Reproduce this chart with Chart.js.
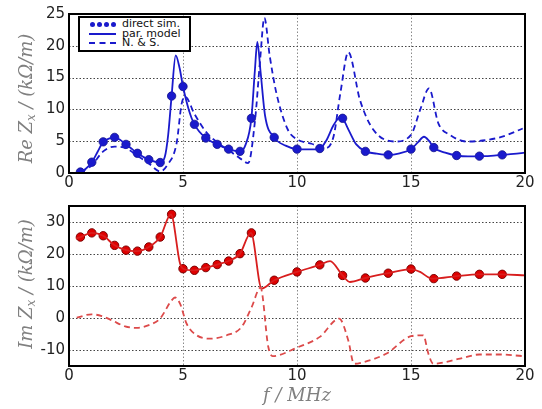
<!DOCTYPE html>
<html>
<head>
<meta charset="utf-8">
<script src="https://cdn.jsdelivr.net/npm/chart.js@4/dist/chart.umd.min.js"></script>
<style>
  html,body{margin:0;padding:0;background:#fff;}
  #wrap{position:relative;width:542px;height:409px;overflow:hidden;}
  .cv{position:absolute;left:0;}
  #legend{position:absolute;left:78px;top:16px;width:109px;height:32px;border:2px solid #000;background:#fff;
    font-family:"DejaVu Sans",sans-serif;font-size:11px;color:#111;}
  .row{position:absolute;left:0;height:10px;line-height:10px;}
  .row span.t{position:absolute;left:42px;top:0;white-space:nowrap;}
  .sym{position:absolute;left:9px;top:5px;width:27px;height:0;}
  .dot{position:absolute;top:-2.5px;width:5px;height:5px;border-radius:50%;background:#1a1acc;}
</style>
</head>
<body>
<div id="wrap">
  <canvas id="c1" class="cv" width="542" height="192" style="top:0"></canvas>
  <canvas id="c2" class="cv" width="542" height="217" style="top:192px"></canvas>
  <div id="legend">
    <div class="row" style="top:1px"><div class="sym"><div class="dot" style="left:1px"></div><div class="dot" style="left:8px"></div><div class="dot" style="left:15px"></div><div class="dot" style="left:22px"></div></div><span class="t">direct sim.</span></div>
    <div class="row" style="top:10.5px"><div class="sym" style="border-top:2px solid #1a1acc;top:4px"></div><span class="t">par. model</span></div>
    <div class="row" style="top:20px"><div class="sym" style="border-top:2px dashed #1a1acc;top:4px"></div><span class="t">N. &amp; S.</span></div>
  </div>
</div>
<script>
// ---------- data ----------
const simFreq = [0.5,1,1.5,2,2.5,3,3.5,4,4.5,5,5.5,6,6.5,7,7.5,8,9,10,11,12,13,14,15,16,17,18,19];
const reSim   = [0.15,1.7,4.9,5.6,4.5,3.1,2.1,1.65,12.1,13.6,7.65,5.5,4.5,3.75,3.4,8.6,5.6,3.75,3.85,8.6,3.4,2.85,3.75,4.0,2.75,2.65,2.85];
const imSim   = [25.3,26.6,25.7,22.7,21.2,20.9,22.2,25.3,32.4,15.4,14.9,15.75,16.7,17.8,20.1,26.6,11.8,14.4,16.6,13.3,12.5,14.0,15.3,12.3,13.1,13.65,13.65];

const reModelF = [0.3,0.5,0.75,1.0,1.25,1.5,1.75,2.0,2.25,2.5,2.75,3.0,3.5,4.0,4.2,4.35,4.5,4.68,4.85,5.0,5.25,5.5,6.0,6.5,7.0,7.5,7.75,8.0,8.15,8.26,8.4,8.6,9.0,9.5,10,10.5,11,11.3,11.6,11.9,12.0,12.3,12.6,13,13.5,14,14.5,15,15.3,15.57,15.8,16,16.5,17,17.5,18,18.5,19,19.5,20];
const reModel  = [0,0.15,0.7,1.7,3.3,4.9,5.4,5.6,5.2,4.5,3.8,3.1,2.1,1.65,2.5,6,12.1,18.5,16.5,13.6,10,7.65,5.5,4.5,3.75,3.4,4.5,8.6,16,20.6,16,9,5.6,4.3,3.75,3.7,3.85,5.2,7.5,8.8,8.6,6.5,4.5,3.4,3.05,2.85,3.1,3.75,4.8,5.7,5,4.0,3.2,2.75,2.6,2.65,2.7,2.85,3.0,3.2];

const reNSF = [0.5,1.0,1.5,2.0,2.5,3.0,3.5,4.0,4.3,4.72,4.94,5.1,5.5,6.0,6.5,7.0,7.5,7.86,8.16,8.38,8.57,8.8,9.1,9.6,10.0,10.64,11.2,11.6,11.9,12.25,12.76,13.35,14.3,15.0,15.4,15.79,16.2,16.7,17.44,18.9,19.9];
const reNS  = [0.1,1.2,3.4,4.15,3.9,2.7,1.5,0.25,1.2,4.7,10.9,12,9.3,6.5,4.8,3.6,2.3,1.55,8.3,17.7,24.4,18.5,12.5,6.8,5.3,4.6,3.9,5.7,12.5,19.0,11.5,6.8,4.95,6.0,9.9,13.3,7.8,6.0,4.95,5.6,7.0];

const imModelF = [0.3,0.5,1.0,1.5,2.0,2.5,3.0,3.5,4.0,4.47,4.87,5.0,5.5,6,6.5,7,7.5,7.98,8.45,9,10,11,11.45,12,12.32,13,14,15,15.4,15.85,16,17,18,19,20];
const imModel  = [24.8,25.3,26.6,25.7,22.7,21.2,20.9,22.2,25.3,32.4,17.0,15.4,14.9,15.75,16.7,17.8,20.1,26.6,9.2,11.8,14.4,16.6,17.8,13.3,11.25,12.5,14.0,15.3,14.4,12.4,12.3,13.1,13.65,13.65,13.3];

const imNSF = [0.34,0.99,1.44,1.87,2.46,2.97,3.47,3.99,4.5,4.65,4.87,5.16,5.6,6.18,6.92,7.57,8.01,8.4,8.74,8.93,10,11,11.85,12.25,12.5,12.8,13.93,15,15.54,15.76,15.98,17.15,18,18.9,19.9];
const imNS  = [0.1,1.15,0.6,-0.7,-2.6,-3.1,-2.3,-0.2,5.5,6.4,4.5,-1.8,-5.4,-6.45,-5.4,-2.8,3.4,9.5,-9,-11.9,-9.25,-5.9,-0.2,-7,-14.3,-14,-11.1,-5.7,-5.4,-11.1,-14.3,-12.7,-11.4,-11.4,-11.9];

const xTicks = [0,5,10,15,20];
const reTicks = [0,5,10,15,20,25];
const imTicks = [-10,0,10,20,30];

// ---------- helpers ----------
const pts = (xs, ys) => xs.map((x,i)=>({x:x, y:ys[i]}));
const BLUE = '#1a1acc', RED = '#d81e1e', REDDASH = '#dc4a4a';

const gridPlugin = {
  id:'dotGrid',
  beforeDatasetsDraw(chart){
    const ctx = chart.ctx, a = chart.chartArea, xs = chart.scales.x, ys = chart.scales.y;
    ctx.save();
    ctx.lineWidth = 1;
    ctx.setLineDash([1.5,2]);
    ctx.strokeStyle = '#8a8a8a';
    xs.ticks.forEach(t=>{
      const px = Math.round(xs.getPixelForValue(t.value)) + 0.5;
      ctx.beginPath(); ctx.moveTo(px, a.top); ctx.lineTo(px, a.bottom); ctx.stroke();
    });
    ctx.strokeStyle = '#444';
    ys.ticks.forEach(t=>{
      const py = Math.round(ys.getPixelForValue(t.value)) + 0.5;
      ctx.beginPath(); ctx.moveTo(a.left, py); ctx.lineTo(a.right, py); ctx.stroke();
    });
    ctx.restore();
  }
};

function framePlugin(yParts, xTitle, yCenterOffset){
  return {
    id:'frameTitles',
    afterDraw(chart){
      const ctx = chart.ctx, a = chart.chartArea;
      ctx.save();
      ctx.lineWidth = 2; ctx.strokeStyle = '#000';
      ctx.strokeRect(a.left, a.top, a.right-a.left, a.bottom-a.top);
      const main = 'italic 18px "DejaVu Serif", serif';
      const sub = 'italic 12px "DejaVu Serif", serif';
      let total = 0;
      yParts.forEach(p=>{ ctx.font = p.s ? sub : main; p.w = ctx.measureText(p.t).width; total += p.w; });
      ctx.translate(27, (a.top+a.bottom)/2 + yCenterOffset);
      ctx.rotate(-Math.PI/2);
      ctx.fillStyle = '#808080';
      ctx.textBaseline = 'middle';
      let x = -total/2;
      yParts.forEach(p=>{ ctx.font = p.s ? sub : main; ctx.fillText(p.t, x, p.s ? 5 : 0); x += p.w; });
      ctx.restore();
      if (xTitle){
        ctx.save();
        ctx.font = 'italic 18px "DejaVu Serif", serif';
        ctx.fillStyle = '#808080';
        ctx.textAlign = 'center'; ctx.textBaseline = 'middle';
        ctx.fillText(xTitle, (a.left+a.right)/2, chart.height - 13);
        ctx.restore();
      }
    }
  };
}

function makeScales(ymin, ymax, yTicks, xHeight){
  return {
    x:{ type:'linear', min:0, max:20,
      afterBuildTicks: s => { s.ticks = xTicks.map(v=>({value:v})); },
      afterFit: s => { s.height = xHeight; },
      ticks:{ font:{family:'"DejaVu Sans"', size:15}, color:'#222', padding:1, maxRotation:0 },
      grid:{ display:false, drawTicks:false },
      border:{ display:false } },
    y:{ type:'linear', min:ymin, max:ymax,
      afterBuildTicks: s => { s.ticks = yTicks.map(v=>({value:v})); },
      afterFit: s => { s.width = 69; },
      ticks:{ font:{family:'"DejaVu Sans"', size:15}, color:'#222', padding:4 },
      grid:{ display:false, drawTicks:false },
      border:{ display:false } }
  };
}

const common = { responsive:false, animation:false, devicePixelRatio:1,
  plugins:{ legend:{display:false}, tooltip:{enabled:false} } };

new Chart(document.getElementById('c1'), {
  type:'scatter',
  data:{ datasets:[
    { data: pts(reNSF, reNS), showLine:true, borderColor:BLUE, borderWidth:1.8, borderDash:[6,4], pointRadius:0, cubicInterpolationMode:'monotone' },
    { data: pts(reModelF, reModel), showLine:true, borderColor:BLUE, borderWidth:1.8, pointRadius:0, cubicInterpolationMode:'monotone' },
    { data: pts(simFreq, reSim), showLine:false, pointRadius:4.2, backgroundColor:BLUE, borderColor:'#10108a', borderWidth:0.8 }
  ]},
  options: Object.assign({}, common, {
    layout:{ padding:{ top:14, right:17, left:0, bottom:0 } },
    scales: makeScales(0, 25, reTicks, 19)
  }),
  plugins:[ gridPlugin, framePlugin([{t:'Re Z'},{t:'x',s:true},{t:' / (k\u03A9/m)'}], null, 5) ]
});

new Chart(document.getElementById('c2'), {
  type:'scatter',
  data:{ datasets:[
    { data: pts(imNSF, imNS), showLine:true, borderColor:REDDASH, borderWidth:1.8, borderDash:[6,4], pointRadius:0, cubicInterpolationMode:'monotone' },
    { data: pts(imModelF, imModel), showLine:true, borderColor:RED, borderWidth:1.8, pointRadius:0, cubicInterpolationMode:'monotone' },
    { data: pts(simFreq, imSim), showLine:false, pointRadius:4.2, backgroundColor:'#e00000', borderColor:'#7a0000', borderWidth:1 }
  ]},
  options: Object.assign({}, common, {
    layout:{ padding:{ top:14, right:17, left:0, bottom:0 } },
    scales: makeScales(-15, 35, imTicks, 43)
  }),
  plugins:[ gridPlugin, framePlugin([{t:'Im Z'},{t:'x',s:true},{t:' / (k\u03A9/m)'}], 'f / MHz', -2) ]
});
</script>
</body>
</html>
